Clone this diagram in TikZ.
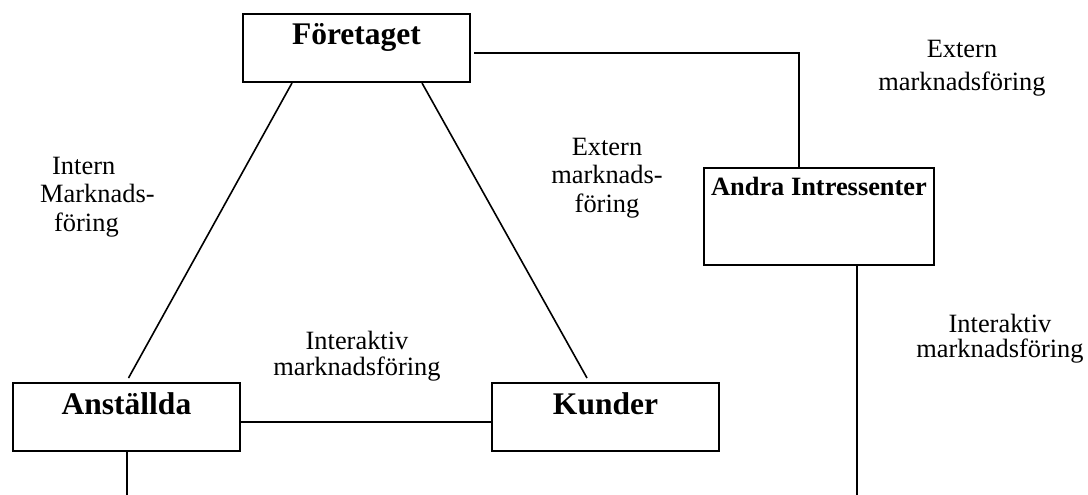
\documentclass[tikz,border=0pt]{standalone}
\usepackage{fontspec}
\setmainfont{Liberation Serif}
\usetikzlibrary{positioning,calc}

\begin{document}
\begin{tikzpicture}[
    x=1pt, y=-1pt,
    every node/.style={inner sep=0pt},
    box/.style={draw, line width=2pt, anchor=north west, minimum width=227pt, text height=31pt, text depth=37pt, align=center, font=\fontsize{31.5}{34}\selectfont\bfseries},
    note/.style={align=center, anchor=north, font=\fontsize{26.4}{#1}\selectfont},
    note/.default=28.5,
    link/.style={line width=1.6pt},
  ]
    \useasboundingbox (0,0) rectangle (1088,495);
    % boxes
    \node[box] (fo) at (242,13) {Företaget};
    \node[box] (an) at (12,382) {Anställda};
    \node[box] (ku) at (491,382) {Kunder};
    \node[box, minimum width=230pt, text height=27pt, text depth=70pt, font=\fontsize{26.4}{28}\selectfont\bfseries] (ai) at (703,167) {Andra Intressenter};
    \coordinate (anfoot) at (127,497);
    \coordinate (aifoot) at (857,497);
    % connectors
    \draw[link] ($(fo.south west)+(50,0)$) -- ($(an.north)+(2,-4)$);
    \draw[link] ($(fo.south west)+(180,0)$) -- ($(ku.north west)+(96,-4)$);
    \draw[link] ($(an.east)+(0,5)$) -- ($(ku.west)+(0,5)$);
    \draw[link] ($(fo.east)+(3,5)$) -| ($(ai.north west)+(96,0)$);
    \draw[link] (an.south -| anfoot) -- (anfoot);
    \draw[link] (ai.south -| aifoot) -- (aifoot);
    % labels
    \node[note, align=left, anchor=north west] (intern) at (40,157) {\hspace*{12pt}Intern\\Marknads-\\\hspace*{14pt}föring};
    \node[note] (extmid) at (607,138) {Extern\\marknads-\\föring};
    \node[note=33] (exttop) at (962,40) {Extern\\marknadsföring};
    \node[note=26] (intmid) at (357,331) {Interaktiv\\marknadsföring};
    \node[note=25] (intright) at (1000,314) {Interaktiv\\marknadsföring};
\end{tikzpicture}
\end{document}
